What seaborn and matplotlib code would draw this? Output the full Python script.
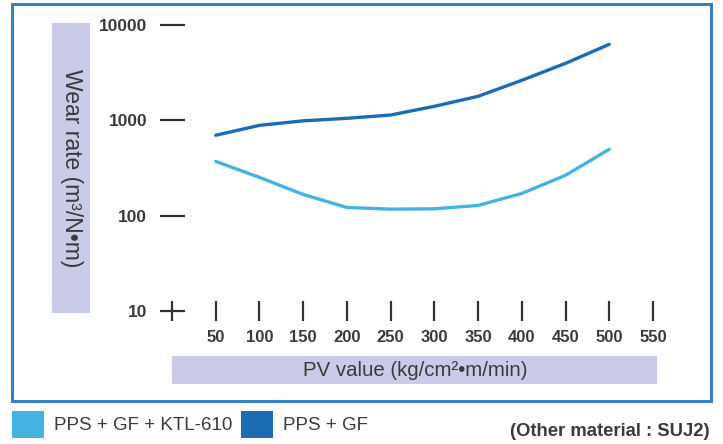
import numpy as np
import pandas as pd
import seaborn as sns
import matplotlib
matplotlib.use("Agg")
import matplotlib.pyplot as plt
from matplotlib.patches import Rectangle

# ---- data ----
pv_values = [50, 100, 150, 200, 250, 300, 350, 400, 450, 500]
wear_pps_gf_ktl = [371, 252, 167, 122, 117, 118, 128, 171, 265, 497]
wear_pps_gf = [697, 886, 988, 1050, 1137, 1403, 1786, 2630, 3960, 6270]
series_names = ["PPS + GF + KTL-610", "PPS + GF"]
x_ticks = [0, 50, 100, 150, 200, 250, 300, 350, 400, 450, 500, 550]
x_tick_labels = ["", "50", "100", "150", "200", "250", "300", "350", "400", "450", "500", "550"]
y_ticks = [10, 100, 1000, 10000]
y_tick_labels = ["10", "100", "1000", "10000"]

df = pd.DataFrame({
    "PV": pv_values * 2,
    "Wear": wear_pps_gf_ktl + wear_pps_gf,
    "Material": [series_names[0]] * len(pv_values) + [series_names[1]] * len(pv_values),
})

LIGHT = "#45b3e2"
DARK = "#1c6cb4"
TXT = "#3a3a3a"
LAV = "#c9cbe8"
BORDER = "#3a80c0"

sns.set_theme(style="white")
plt.rcParams["font.family"] = ["Liberation Sans", "DejaVu Sans"]

W, H = 723, 444
fig = plt.figure(figsize=(W / 100, H / 100), dpi=100)


def fx(px):
    return px / W


def fy(py):
    return 1 - py / H


# axes: x=0 at px 172, 0.8745 px per unit; y log 10 at py 311, 10000 at py 25
ax_left = fx(172)
ax_bottom = fy(311)
ax_w = 600 * 0.8745 / W
ax_h = (311 - 25) / H
ax = fig.add_axes([ax_left, ax_bottom, ax_w, ax_h])
ax.patch.set_alpha(0)

sns.lineplot(data=df, x="PV", y="Wear", hue="Material",
             palette={series_names[0]: LIGHT, series_names[1]: DARK},
             linewidth=2.4, ax=ax, legend=False)
ax.set_yscale("log")
ax.set_xlim(0, 600)
ax.set_ylim(10, 10000)
for s in ax.spines.values():
    s.set_visible(False)
ax.set_xlabel("")
ax.set_ylabel("")
ax.set_xticks(x_ticks)
ax.set_xticklabels(x_tick_labels)
ax.set_yticks(y_ticks)
ax.set_yticklabels(y_tick_labels)
ax.yaxis.set_minor_locator(matplotlib.ticker.NullLocator())
ax.xaxis.set_minor_locator(matplotlib.ticker.NullLocator())
ax.tick_params(axis="x", which="major", bottom=True, direction="inout", length=15, width=1.6,
               color="#333333", pad=6, labelsize=12, labelcolor=TXT)
ax.tick_params(axis="y", which="major", left=True, direction="inout", length=18, width=1.6,
               color="#333333", pad=9, labelsize=12.5, labelcolor=TXT)
for lab in ax.get_xticklabels() + ax.get_yticklabels():
    lab.set_fontweight("bold")
ax.grid(False)

# outer border
fig.add_artist(Rectangle((fx(12), fy(401)), fx(711) - fx(12), fy(4) - fy(401),
                         transform=fig.transFigure, fill=False,
                         edgecolor=BORDER, linewidth=2.2))

# y label box
fig.add_artist(Rectangle((fx(52), fy(313)), fx(90) - fx(52), fy(23) - fy(313),
                         transform=fig.transFigure, facecolor=LAV, edgecolor="none", zorder=0))
fig.text(fx(71), fy(168), "Wear rate (m³/N•m)", rotation=-90, ha="center", va="center",
         fontsize=16.5, color=TXT)

# x label box
fig.add_artist(Rectangle((fx(172), fy(384)), fx(657) - fx(172), fy(356) - fy(384),
                         transform=fig.transFigure, facecolor=LAV, edgecolor="none", zorder=0))
fig.text(fx(415), fy(370), "PV value (kg/cm²•m/min)", ha="center", va="center",
         fontsize=14.7, color=TXT)

# legend
fig.add_artist(Rectangle((fx(12), fy(438)), fx(44) - fx(12), fy(411) - fy(438),
                         transform=fig.transFigure, facecolor=LIGHT, edgecolor="none"))
fig.text(fx(54), fy(425), series_names[0], ha="left", va="center", fontsize=13.5, color=TXT)
fig.add_artist(Rectangle((fx(241), fy(438)), fx(273) - fx(241), fy(411) - fy(438),
                         transform=fig.transFigure, facecolor=DARK, edgecolor="none"))
fig.text(fx(283), fy(425), series_names[1], ha="left", va="center", fontsize=13.5, color=TXT)
fig.text(fx(710), fy(431), "(Other material : SUJ2)", ha="right", va="center",
         fontsize=13.3, fontweight="bold", color=TXT)

fig.savefig("out.png", dpi=100)
